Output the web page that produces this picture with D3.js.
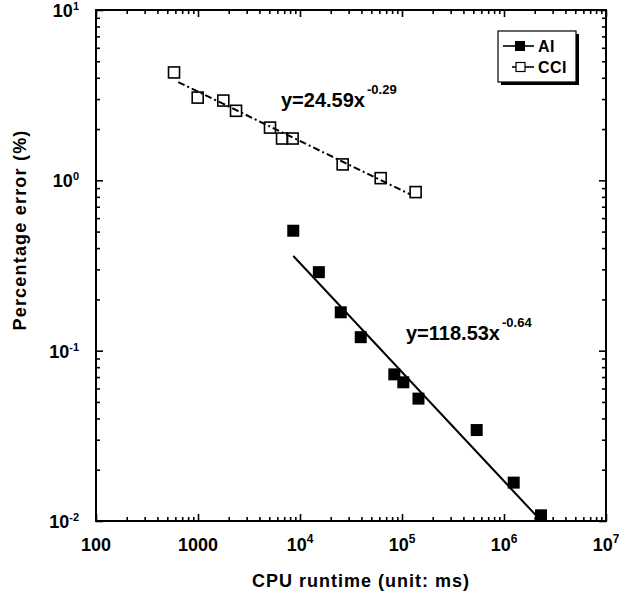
<!DOCTYPE html>
<html>

<head>
  <title>Percentage error vs CPU runtime</title>

  <style>
    body,
    html {
      margin: 0;
      padding: 0;
      background: #fff;
    }

    text {
      font-family: "Liberation Sans", Arial, sans-serif;
      font-weight: bold;
      fill: #000;
    }
  </style>
</head>

<body>

  <svg id="svg" width="619" height="598"></svg>

  <script src="https://d3js.org/d3.v7.min.js"></script>
  <script>
    // values
    const aiRuntime = [8590, 15300, 25100, 39400, 84100, 103000, 145000, 540000, 1245000, 2307000]
    const aiError = [0.506, 0.289, 0.168, 0.120, 0.0726, 0.0652, 0.0523, 0.0342, 0.0168, 0.0108]
    const cciRuntime = [582, 993, 1771, 2360, 5080, 6670, 8470, 26200, 61800, 136000]
    const cciError = [4.30, 3.06, 2.94, 2.56, 2.04, 1.76, 1.76, 1.24, 1.03, 0.853]

    // power-law fits printed on the chart, and the runtime span each is drawn over
    const aiFit = { a: 118.53, b: -0.64, from: 8600, to: 2300000 }
    const cciFit = { a: 24.59, b: -0.29, from: 640, to: 120000 }

    const xTickLabels = [["100", ""], ["1000", ""], ["10", "4"], ["10", "5"], ["10", "6"], ["10", "7"]]
    const xTickValues = [1e2, 1e3, 1e4, 1e5, 1e6, 1e7]
    const yTickLabels = [["10", "-2"], ["10", "-1"], ["10", "0"], ["10", "1"]]
    const yTickValues = [1e-2, 1e-1, 1e0, 1e1]

    const plotLeft = 96, plotRight = 606, plotTop = 10, plotBottom = 521

    const svg = d3.select("#svg")

    const xScale = d3.scaleLog()
      .domain([100, 1e7])
      .range([plotLeft, plotRight])

    const yScale = d3.scaleLog()
      .domain([0.01, 10])
      .range([plotBottom, plotTop])

    const isDecade = v => Math.abs(Math.log10(v) - Math.round(Math.log10(v))) < 1e-9
    const xMinor = xScale.ticks().filter(v => !isDecade(v))
    const yMinor = yScale.ticks().filter(v => !isDecade(v))

    function drawAxis(axisFn, scale, transform, values, size) {
      const g = svg.append("g")
        .attr("transform", transform)
        .call(axisFn(scale).tickValues(values).tickSize(size).tickFormat(""))
      g.select(".domain").remove()
      g.selectAll(".tick line").attr("stroke", "#000").attr("stroke-width", 1.6)
    }

    // inward ticks on all four sides
    drawAxis(d3.axisBottom, xScale, `translate(0,${plotBottom})`, xTickValues, -7)
    drawAxis(d3.axisBottom, xScale, `translate(0,${plotBottom})`, xMinor, -4)
    drawAxis(d3.axisTop, xScale, `translate(0,${plotTop})`, xTickValues, -7)
    drawAxis(d3.axisTop, xScale, `translate(0,${plotTop})`, xMinor, -4)
    drawAxis(d3.axisLeft, yScale, `translate(${plotLeft},0)`, yTickValues, -7)
    drawAxis(d3.axisLeft, yScale, `translate(${plotLeft},0)`, yMinor, -4)
    drawAxis(d3.axisRight, yScale, `translate(${plotRight},0)`, yTickValues, -7)
    drawAxis(d3.axisRight, yScale, `translate(${plotRight},0)`, yMinor, -4)

    svg.append("rect")
      .attr("x", plotLeft)
      .attr("y", plotTop)
      .attr("width", plotRight - plotLeft)
      .attr("height", plotBottom - plotTop)
      .attr("fill", "none")
      .attr("stroke", "#000")
      .attr("stroke-width", 2)

    // tick labels with superscripts
    xTickValues.forEach((v, i) => {
      const t = svg.append("text")
        .attr("x", xScale(v))
        .attr("y", 551)
        .attr("text-anchor", "middle")
        .style("font-size", "18px")
      t.append("tspan").text(xTickLabels[i][0])
      if (xTickLabels[i][1]) {
        t.append("tspan").attr("dy", -8).style("font-size", "12px").text(xTickLabels[i][1])
      }
    })

    yTickValues.forEach((v, i) => {
      const t = svg.append("text")
        .attr("x", 79)
        .attr("y", yScale(v) + 7)
        .attr("text-anchor", "end")
        .style("font-size", "18px")
      t.append("tspan").text(yTickLabels[i][0])
      t.append("tspan").attr("dy", -7).style("font-size", "11px").text(yTickLabels[i][1])
    })

    // axis titles
    svg.append("text")
      .attr("x", 361)
      .attr("y", 587)
      .attr("text-anchor", "middle")
      .style("font-size", "18px")
      .style("letter-spacing", "1px")
      .text("CPU runtime (unit: ms)")

    svg.append("text")
      .attr("transform", "translate(26,230) rotate(-90)")
      .attr("text-anchor", "middle")
      .style("font-size", "18px")
      .style("letter-spacing", "1.2px")
      .text("Percentage error (%)")

    // fitted lines
    const lineGen = d3.line()
      .x(d => xScale(d[0]))
      .y(d => yScale(d[1]))

    const fitPoints = f => [f.from, f.to].map(x => [x, f.a * Math.pow(x, f.b)])

    svg.append("path")
      .attr("d", lineGen(fitPoints(aiFit)))
      .attr("stroke", "#000")
      .attr("stroke-width", 2)
      .attr("fill", "none")

    svg.append("path")
      .attr("d", lineGen(fitPoints(cciFit)))
      .attr("stroke", "#000")
      .attr("stroke-width", 2)
      .attr("stroke-dasharray", "7,3,2,3")
      .attr("fill", "none")

    // markers
    const aiData = aiRuntime.map((x, i) => [x, aiError[i]])
    const cciData = cciRuntime.map((x, i) => [x, cciError[i]])

    svg.selectAll(".ai")
      .data(aiData)
      .enter()
      .append("rect")
      .attr("class", "ai")
      .attr("x", d => xScale(d[0]) - 6)
      .attr("y", d => yScale(d[1]) - 6)
      .attr("width", 12)
      .attr("height", 12)
      .attr("fill", "#000")

    svg.selectAll(".cci")
      .data(cciData)
      .enter()
      .append("rect")
      .attr("class", "cci")
      .attr("x", d => xScale(d[0]) - 5.5)
      .attr("y", d => yScale(d[1]) - 5.5)
      .attr("width", 11)
      .attr("height", 11)
      .attr("fill", "none")
      .attr("stroke", "#000")
      .attr("stroke-width", 1.6)

    // equations
    function equation(x, y, base, power) {
      const t = svg.append("text")
        .attr("x", x)
        .attr("y", y)
        .style("font-size", "20px")
      t.append("tspan").text(base)
      t.append("tspan").attr("dx", 2).attr("dy", -13).style("font-size", "13px").text(power)
    }
    equation(281, 107, "y=24.59x", "-0.29")
    equation(406, 340, "y=118.53x", "-0.64")

    // legend
    const lg = svg.append("g")
    lg.append("rect")
      .attr("x", 501).attr("y", 34).attr("width", 78).attr("height", 51)
      .attr("fill", "#000")
    lg.append("rect")
      .attr("x", 498).attr("y", 31).attr("width", 78).attr("height", 51)
      .attr("fill", "#fff").attr("stroke", "#000").attr("stroke-width", 1.2)

    lg.append("line")
      .attr("x1", 503).attr("x2", 534).attr("y1", 46).attr("y2", 46)
      .attr("stroke", "#000").attr("stroke-width", 1.6)
    lg.append("rect")
      .attr("x", 515).attr("y", 41).attr("width", 10).attr("height", 10)
      .attr("fill", "#000")
    lg.append("text")
      .attr("x", 538).attr("y", 52)
      .style("font-size", "16px")
      .style("letter-spacing", "0.5px")
      .text("AI")

    lg.append("line")
      .attr("x1", 512).attr("x2", 534).attr("y1", 67).attr("y2", 67)
      .attr("stroke", "#000").attr("stroke-width", 1.6)
    lg.append("rect")
      .attr("x", 516).attr("y", 62.5).attr("width", 9).attr("height", 9)
      .attr("fill", "#fff").attr("stroke", "#000").attr("stroke-width", 1.2)
    lg.append("text")
      .attr("x", 538).attr("y", 73)
      .style("font-size", "16px")
      .style("letter-spacing", "0.5px")
      .text("CCI")

  </script>
</body>

</html>
